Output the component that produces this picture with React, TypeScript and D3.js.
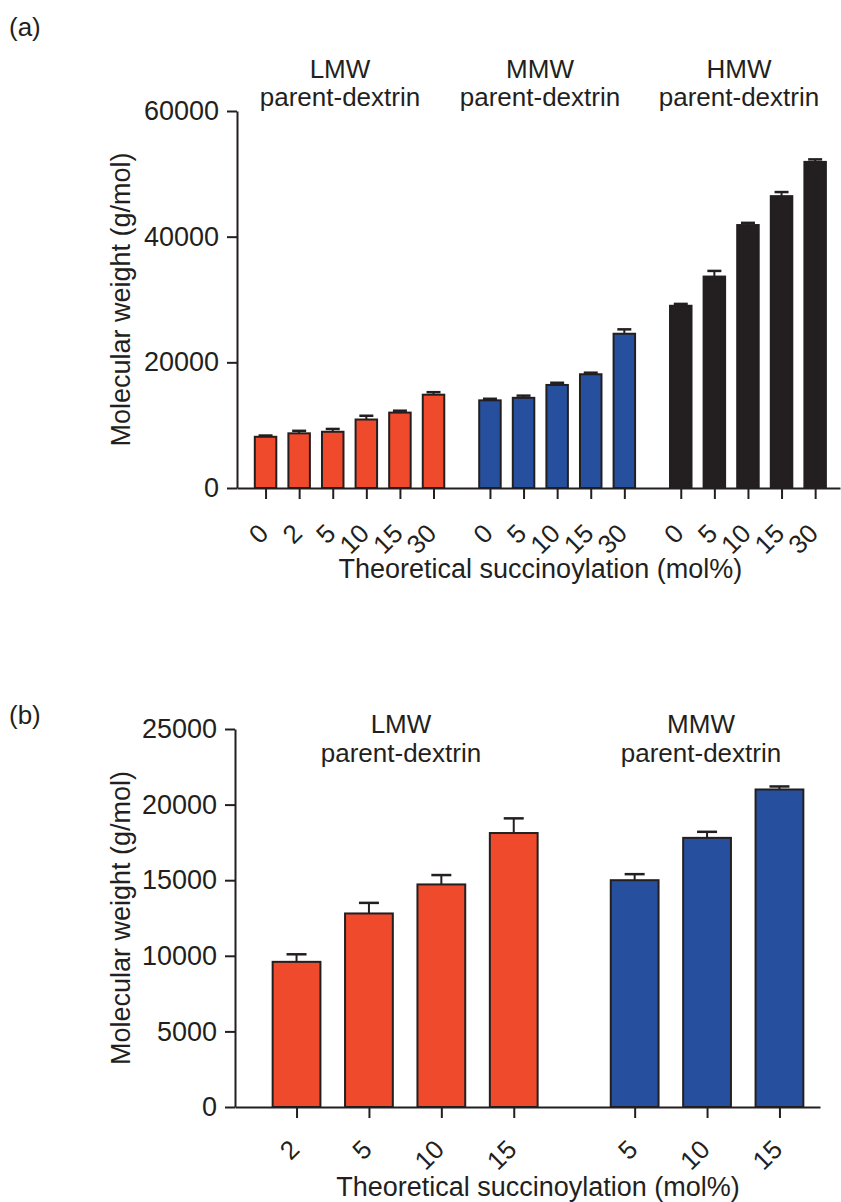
import React, { useEffect, useRef } from "react";
import * as d3 from "d3";

const W = 841;
const H = 1202;
const FONT = "'Liberation Sans', Arial, Helvetica, sans-serif";
const INK = "#231f20";
const COLORS: Record<string, string> = { LMW: "#ef4a2b", MMW: "#26509e", HMW: "#231f20" };

// panel (a): molecular weight of succinoylated dextrins, all three parents
const aLmwLabels = ["0", "2", "5", "10", "15", "30"];
const aLmwMeans = [8150, 8700, 8950, 10900, 12000, 14850];
const aLmwErrors = [200, 400, 450, 600, 300, 400];

const aMmwLabels = ["0", "5", "10", "15", "30"];
const aMmwMeans = [13950, 14350, 16400, 18100, 24550];
const aMmwErrors = [250, 350, 350, 250, 700];

const aHmwLabels = ["0", "5", "10", "15", "30"];
const aHmwMeans = [29000, 33650, 41850, 46450, 51900];
const aHmwErrors = [300, 900, 350, 650, 400];

const aYTicks = [0, 20000, 40000, 60000];

// panel (b)
const bLmwLabels = ["2", "5", "10", "15"];
const bLmwMeans = [9600, 12800, 14720, 18120];
const bLmwErrors = [500, 700, 620, 970];

const bMmwLabels = ["5", "10", "15"];
const bMmwMeans = [15000, 17800, 21000];
const bMmwErrors = [400, 400, 200];

const bYTicks = [0, 5000, 10000, 15000, 20000, 25000];

const Y_TITLE = "Molecular weight (g/mol)";
const X_TITLE = "Theoretical succinoylation (mol%)";

type Group = { name: string; labels: string[]; means: number[]; errors: number[] };

const panelA = {
  tag: "(a)", tagY: 36,
  groups: [
    { name: "LMW", labels: aLmwLabels, means: aLmwMeans, errors: aLmwErrors },
    { name: "MMW", labels: aMmwLabels, means: aMmwMeans, errors: aMmwErrors },
    { name: "HMW", labels: aHmwLabels, means: aHmwMeans, errors: aHmwErrors },
  ] as Group[],
  groupLabelX: [340, 540, 739],
  groupLabelY: [78, 106],
  yMax: 60000, yTicks: aYTicks,
  left: 237, right: 840, top: 111, bottom: 488,
  gap: 0.68, padL: 0.85, padR: 0.74, barFrac: 0.64, capW: 14,
  labelDy: 47, titleY: 578,
};

const panelB = {
  tag: "(b)", tagY: 724,
  groups: [
    { name: "LMW", labels: bLmwLabels, means: bLmwMeans, errors: bLmwErrors },
    { name: "MMW", labels: bMmwLabels, means: bMmwMeans, errors: bMmwErrors },
  ] as Group[],
  groupLabelX: [401, 701],
  groupLabelY: [733, 762],
  yMax: 25000, yTicks: bYTicks,
  left: 235, right: 820, top: 729, bottom: 1107,
  gap: 0.67, padL: 0.85, padR: 0.56, barFrac: 0.66, capW: 20,
  labelDy: 44, titleY: 1196,
};

function drawPanel(root: any, p: any) {
  const g = root.append("g");

  const flat: any[] = [];
  let cursor = 0;
  p.groups.forEach((grp: Group, gi: number) => {
    grp.means.forEach((m, i) => {
      flat.push({ group: grp.name, label: grp.labels[i], mean: m, err: grp.errors[i], pos: cursor + gi * p.gap + i });
    });
    cursor += grp.means.length;
  });
  const lastPos = flat[flat.length - 1].pos;

  const x = d3.scaleLinear().domain([-p.padL, lastPos + p.padR]).range([p.left, p.right]);
  const y = d3.scaleLinear().domain([0, p.yMax]).range([p.bottom, p.top]);
  const bw = (x(1) - x(0)) * p.barFrac;

  // error bars (upper half only, the rest hides inside the bar)
  const err = g.append("g").attr("stroke", INK);
  err.selectAll("line.v").data(flat).join("line")
    .attr("x1", (d: any) => x(d.pos)).attr("x2", (d: any) => x(d.pos))
    .attr("y1", (d: any) => y(d.mean)).attr("y2", (d: any) => y(d.mean + d.err))
    .attr("stroke-width", 2);
  err.selectAll("line.cap").data(flat).join("line")
    .attr("x1", (d: any) => x(d.pos) - p.capW / 2).attr("x2", (d: any) => x(d.pos) + p.capW / 2)
    .attr("y1", (d: any) => y(d.mean + d.err)).attr("y2", (d: any) => y(d.mean + d.err))
    .attr("stroke-width", 2.5);

  g.append("g").selectAll("rect").data(flat).join("rect")
    .attr("x", (d: any) => x(d.pos) - bw / 2)
    .attr("y", (d: any) => y(d.mean))
    .attr("width", bw)
    .attr("height", (d: any) => y(0) - y(d.mean))
    .attr("fill", (d: any) => COLORS[d.group])
    .attr("stroke", INK)
    .attr("stroke-width", 2);

  const yAxis = g.append("g")
    .attr("transform", `translate(${p.left},0)`)
    .call(d3.axisLeft(y).tickValues(p.yTicks).tickSize(10).tickSizeOuter(0).tickPadding(8).tickFormat(d3.format("d")));
  yAxis.attr("font-family", FONT).attr("font-size", 27).attr("color", INK);
  yAxis.selectAll("path, line").attr("stroke-width", 2);

  const xAxis = g.append("g")
    .attr("transform", `translate(0,${p.bottom})`)
    .call(d3.axisBottom(x).tickValues(flat.map(d => d.pos)).tickSize(11).tickSizeOuter(0)
      .tickFormat((_: any, i: number) => flat[i].label));
  xAxis.attr("font-family", FONT).attr("font-size", 26).attr("color", INK);
  xAxis.selectAll("path, line").attr("stroke-width", 2);
  xAxis.selectAll("text")
    .attr("x", 4).attr("y", p.labelDy).attr("dy", 0)
    .attr("text-anchor", "end")
    .attr("transform", `rotate(-45 4 ${p.labelDy})`);

  // titles
  g.append("text")
    .attr("transform", `translate(130,${(p.top + p.bottom) / 2}) rotate(-90)`)
    .attr("text-anchor", "middle").attr("font-family", FONT).attr("font-size", 27).attr("fill", INK)
    .text(Y_TITLE);
  g.append("text")
    .attr("x", (x(flat[0].pos) + x(lastPos)) / 2).attr("y", p.titleY)
    .attr("text-anchor", "middle").attr("font-family", FONT).attr("font-size", 27).attr("fill", INK)
    .text(X_TITLE);

  // group labels
  p.groups.forEach((grp: Group, gi: number) => {
    const t = g.append("text").attr("text-anchor", "middle").attr("font-family", FONT)
      .attr("font-size", 26).attr("fill", INK);
    t.append("tspan").attr("x", p.groupLabelX[gi]).attr("y", p.groupLabelY[0]).text(grp.name);
    t.append("tspan").attr("x", p.groupLabelX[gi]).attr("y", p.groupLabelY[1]).text("parent-dextrin");
  });

  g.append("text").attr("x", 9).attr("y", p.tagY)
    .attr("font-family", FONT).attr("font-size", 26).attr("fill", INK).text(p.tag);
}

export default function App() {
  const ref = useRef<SVGSVGElement>(null);

  useEffect(() => {
    const svg = d3.select(ref.current);
    svg.selectAll("*").remove();
    svg.append("rect").attr("width", W).attr("height", H).attr("fill", "#fff");
    drawPanel(svg, panelA);
    drawPanel(svg, panelB);
  }, []);

  return (
    <svg ref={ref} width={W} height={H}
      style={{ position: "absolute", left: 0, top: 0, display: "block" }} />
  );
}
